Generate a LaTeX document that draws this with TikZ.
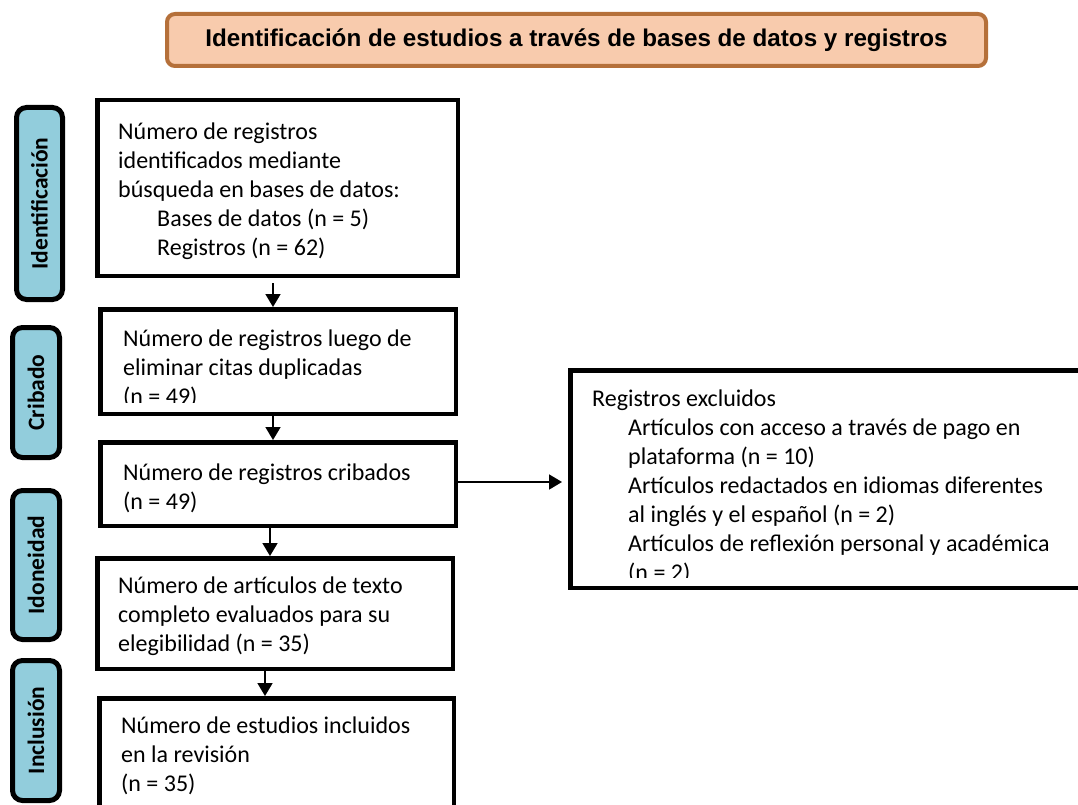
\documentclass[tikz,border=0pt]{standalone}
\usepackage{fontspec}
\setmainfont{Carlito}
\newfontfamily\titlefont{Liberation Sans}
\usetikzlibrary{arrows.meta,positioning}

\definecolor{phaseblue}{HTML}{92CDDC}
\definecolor{titlefill}{HTML}{F8CBAD}
\definecolor{titledraw}{HTML}{B5703A}

\newcommand{\fl}{\rule{0pt}{18pt}}
\newcommand{\ind}[1]{\hspace*{#1pt}}

\begin{document}
\begin{tikzpicture}[
  x=1pt,y=-1pt,
  every node/.style={inner sep=0pt},
  box/.style={draw,line width=4.5pt,fill=white},
  phase/.style={draw,line width=5pt,fill=phaseblue,rounded corners=10pt},
  phasetxt/.style={rotate=90,font=\fontsize{23.5}{27}\selectfont\bfseries},
  txt/.style={anchor=north west,align=left,font=\fontsize{24}{29}\selectfont},
  arr/.style={-{Triangle[length=13pt,width=15pt]},line width=1.8pt}
]
\useasboundingbox (0,0) rectangle (1078,805);

% ============================================================
% TITLE
% ============================================================

\node[draw=titledraw,fill=titlefill,line width=4pt,rounded corners=8pt,
      minimum width=819pt,minimum height=52pt,
      font=\titlefont\bfseries\fontsize{24.2}{27}\selectfont] (title) at (576.5,40)
  {Identificación de estudios a través de bases de datos y registros};

% ============================================================
% PHASE LABELS (left column)
% ============================================================

\node[phase,minimum width=46pt,minimum height=192pt] (phIdent) at (39.5,203.5) {};
\node[phasetxt] (phIdentTxt) at (phIdent) {Identificación};

\node[phase,minimum width=47pt,minimum height=130pt] (phCrib) at (36,392.5) {};
\node[phasetxt] (phCribTxt) at (phCrib) {Cribado};

\node[phase,minimum width=47pt,minimum height=149pt] (phIdon) at (36,565) {};
\node[phasetxt] (phIdonTxt) at (phIdon) {Idoneidad};

\node[phase,minimum width=47pt,minimum height=140pt] (phIncl) at (36,730.5) {};
\node[phasetxt] (phInclTxt) at (phIncl) {Inclusión};

% ============================================================
% MAIN FLOW (middle column)
% ============================================================

\node[box,minimum width=360.5pt,minimum height=175.5pt] (ident) at (277.5,188) {};
\node[txt] (identTxt) at (118,121.6) {\fl Número de registros\\identificados mediante\\búsqueda en bases de datos:\\
  \ind{39}Bases de datos (n = 5)\\\ind{39}Registros (n = 62)};

\node[box,minimum width=355.5pt,minimum height=104.5pt] (dup) at (278,361.5) {};
\begin{scope}
  \clip ([shift={(3pt,-3pt)}]dup.north west) rectangle ([shift={(-3pt,14pt)}]dup.south east);
  \node[txt] (dupTxt) at (123,328.6) {\fl Número de registros luego de\\eliminar citas duplicadas\\(n = 49)};
\end{scope}

\node[box,minimum width=355.5pt,minimum height=83.5pt] (screen) at (278,484) {};
\node[txt] (screenTxt) at (123,462.6) {\fl Número de registros cribados\\(n = 49)};

\node[box,minimum width=355.5pt,minimum height=110.5pt] (elig) at (275,613.5) {};
\node[txt] (eligTxt) at (118,575.6) {\fl Número de artículos de texto\\completo evaluados para su\\elegibilidad (n = 35)};

\node[box,minimum width=354.5pt,minimum height=123.5pt] (incl) at (276.5,760) {};
\node[txt] (inclTxt) at (121,715.6) {\fl Número de estudios incluidos\\en la revisión\\(n = 35)};

\draw[arr,shorten <=5pt] ([xshift=-4.5pt]ident.south) -- ([xshift=-4.5pt]ident.south |- dup.north);
\draw[arr] ([xshift=-5pt]dup.south) -- ([xshift=-5pt]dup.south |- screen.north);
\draw[arr] ([xshift=-8pt]screen.south) -- ([xshift=-8pt]screen.south |- elig.north);
\draw[arr] ([xshift=-10pt]elig.south) -- ([xshift=-10pt]elig.south |- incl.north);

% ============================================================
% EXCLUDED RECORDS (right)
% ============================================================

\node[box,minimum width=522.5pt,minimum height=217.5pt] (excl) at (831.5,479) {};
\begin{scope}
  \clip ([shift={(3pt,-3pt)}]excl.north west) rectangle ([shift={(-3pt,13pt)}]excl.south east);
  \node[txt] (exclTxt) at (592,388.6) {\fl Registros excluidos\\
    \ind{36}Artículos con acceso a través de pago en\\\ind{36}plataforma (n = 10)\\
    \ind{36}Artículos redactados en idiomas diferentes\\\ind{36}al inglés y el español (n = 2)\\
    \ind{36}Artículos de reflexión personal y académica\\\ind{36}(n = 2)};
\end{scope}

\draw[arr,shorten >=6pt] ([yshift=2pt]screen.east) -- ([yshift=2pt]screen.east -| excl.west);

\end{tikzpicture}
\end{document}
